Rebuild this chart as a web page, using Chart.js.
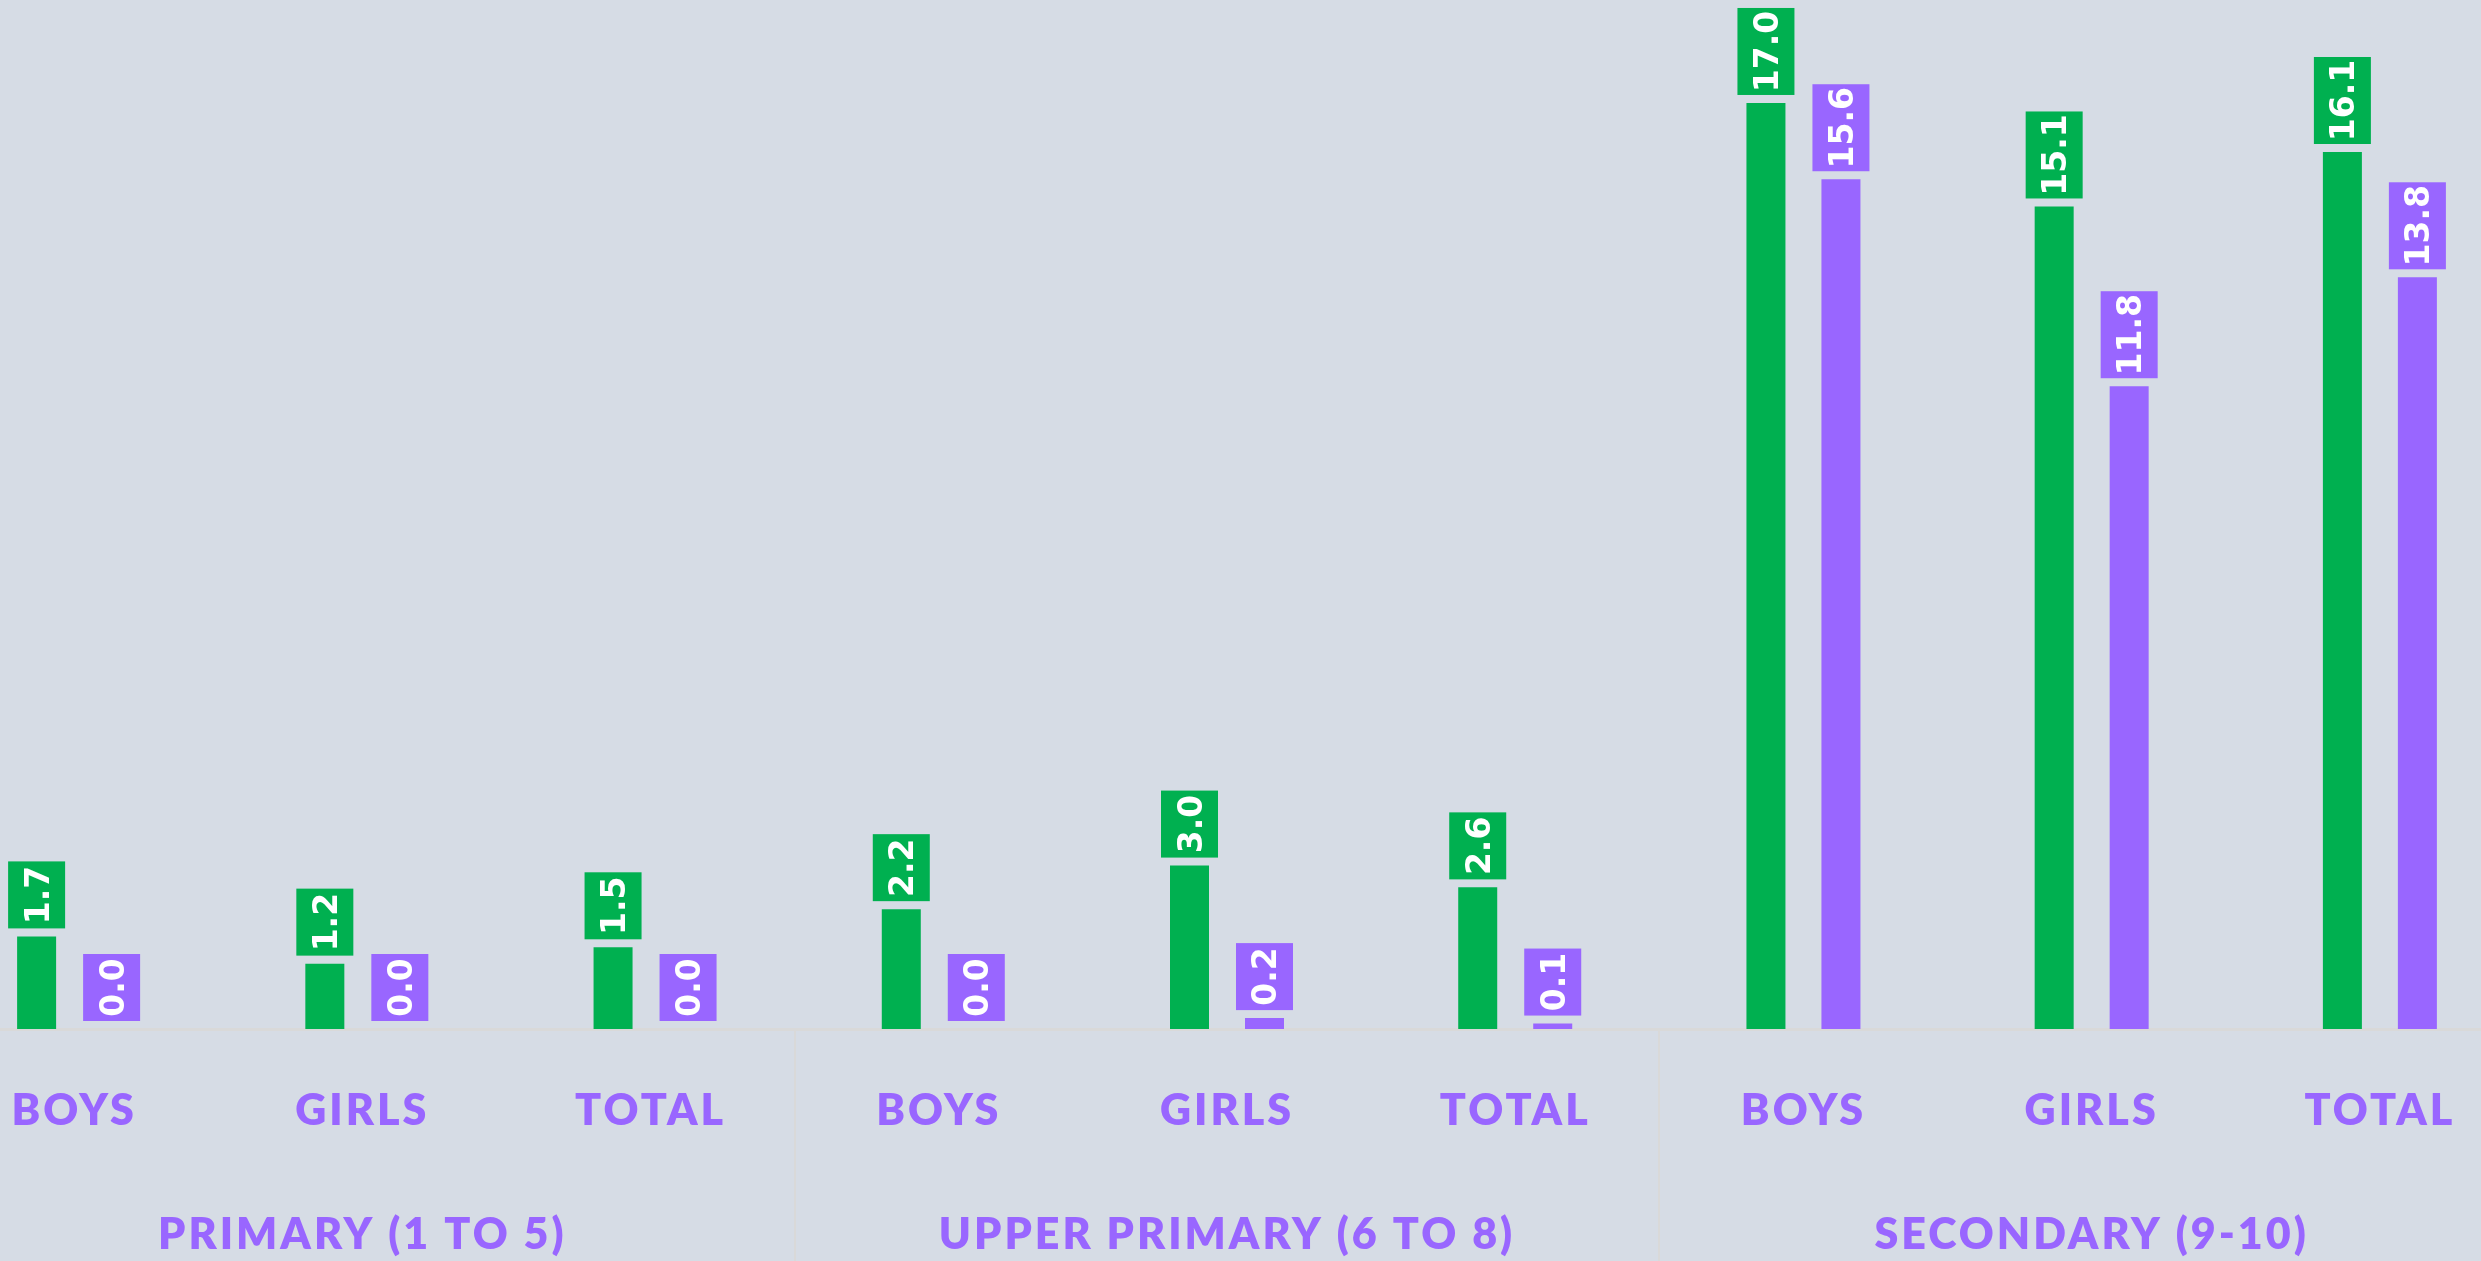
<!DOCTYPE html>
<html>
<head>
<meta charset="utf-8">
<script src="https://cdn.jsdelivr.net/npm/chart.js@4.4.1/dist/chart.umd.min.js"></script>
<style>
  html, body { margin: 0; padding: 0; background: #D6DCE5; overflow: hidden; width: 2481px; height: 1261px; }
  #wrap { position: absolute; left: -70px; top: 0; width: 2594px; height: 1261px; }
  canvas { display: block; }
</style>
</head>
<body>
<div id="wrap"><canvas id="chart" width="2594" height="1261"></canvas></div>
<script>
// Categories along the x axis, grouped three per school level
const categories = ['BOYS', 'GIRLS', 'TOTAL', 'BOYS', 'GIRLS', 'TOTAL', 'BOYS', 'GIRLS', 'TOTAL'];
const groupLabels = ['PRIMARY (1 TO 5)', 'UPPER PRIMARY (6 TO 8)', 'SECONDARY (9-10)'];

// Two series of rates per category
const valuesGreen  = [1.7, 1.2, 1.5, 2.2, 3.0, 2.6, 17.0, 15.1, 16.1];
const valuesPurple = [0.0, 0.0, 0.0, 0.0, 0.2, 0.1, 15.6, 11.8, 13.8];

const GREEN = '#00B050';
const PURPLE = '#9966FF';
const RULE = '#D9D9D9';

// Wider tracking for the axis captions
const axisTracking = {
  id: 'axisTracking',
  beforeLayout(chart) { chart.ctx.letterSpacing = '3px'; },
  beforeDraw(chart) { chart.ctx.letterSpacing = '3px'; },
  beforeDatasetsDraw(chart) { chart.ctx.letterSpacing = '0px'; }
};

// Rotated value tags in a filled box just above each bar
const valueBoxes = {
  id: 'valueBoxes',
  afterDatasetsDraw(chart) {
    const ctx = chart.ctx;
    chart.data.datasets.forEach((ds, i) => {
      const meta = chart.getDatasetMeta(i);
      meta.data.forEach((bar, j) => {
        const txt = ds.data[j].toFixed(1);
        ctx.save();
        ctx.letterSpacing = '0px';
        ctx.font = 'bold 33px "DejaVu Sans", sans-serif';
        const boxH = txt.length * 20 + 7, boxW = 57, gap = 8;
        const cx = bar.x;
        const bottom = bar.y - gap;
        ctx.fillStyle = ds.backgroundColor;
        ctx.fillRect(cx - boxW / 2, bottom - boxH, boxW, boxH);
        ctx.translate(cx, bottom - boxH / 2);
        ctx.rotate(-Math.PI / 2);
        ctx.fillStyle = '#FFFFFF';
        ctx.textAlign = 'center';
        ctx.textBaseline = 'alphabetic';
        ctx.fillText(txt, 0, 12);
        ctx.restore();
      });
    });
  }
};

// Vertical rules between the school-level groups, below the plot
const groupDividers = {
  id: 'groupDividers',
  afterDraw(chart) {
    const s = chart.scales.x2;
    const ctx = chart.ctx;
    ctx.save();
    ctx.strokeStyle = RULE;
    ctx.lineWidth = 2;
    for (let k = 1; k < groupLabels.length; k++) {
      const px = Math.round((s.getPixelForTick(k - 1) + s.getPixelForTick(k)) / 2);
      ctx.beginPath();
      ctx.moveTo(px, chart.chartArea.bottom);
      ctx.lineTo(px, chart.height);
      ctx.stroke();
    }
    ctx.restore();
  }
};

const labelFont = { family: 'Lato, "Open Sans", sans-serif', weight: '800', size: 43, lineHeight: 1 };

new Chart(document.getElementById('chart'), {
  type: 'bar',
  data: {
    labels: categories,
    datasets: [
      { data: valuesGreen, backgroundColor: GREEN, borderWidth: 0 },
      { data: valuesPurple, backgroundColor: PURPLE, borderWidth: 0 }
    ]
  },
  options: {
    responsive: false,
    animation: false,
    devicePixelRatio: 1,
    layout: { padding: { top: 48.5, bottom: -17, left: 0, right: 0 } },
    datasets: { bar: { categoryPercentage: 0.5204, barPercentage: 0.52 } },
    plugins: { legend: { display: false }, tooltip: { enabled: false } },
    scales: {
      x: {
        type: 'category',
        offset: true,
        weight: 0,
        grid: { display: false, drawTicks: false },
        border: { display: true, color: RULE, width: 3 },
        ticks: { color: PURPLE, font: labelFont, padding: 60.5, autoSkip: false, maxRotation: 0 }
      },
      x2: {
        type: 'category',
        labels: groupLabels,
        offset: true,
        position: 'bottom',
        weight: 1,
        grid: { display: false, drawTicks: false },
        border: { display: false },
        ticks: { color: PURPLE, font: labelFont, padding: 21, autoSkip: false, maxRotation: 0 }
      },
      y: { display: false, min: 0, max: 18 }
    }
  },
  plugins: [axisTracking, valueBoxes, groupDividers]
});
</script>
</body>
</html>
